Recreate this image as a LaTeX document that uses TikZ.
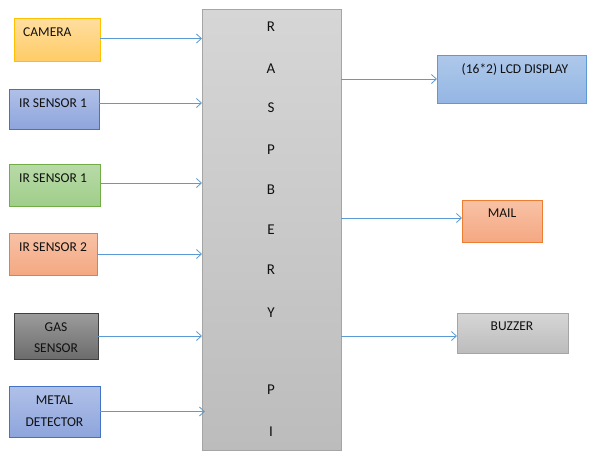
\documentclass[tikz,border=0pt]{standalone}
\usepackage{fontspec}
\setmainfont{Carlito}
\usetikzlibrary{arrows.meta}
\definecolor{arrc}{HTML}{5B9BD5}
\definecolor{txt}{HTML}{111111}
\tikzset{
  box/.style={draw, line width=0.8pt, inner sep=0pt, outer sep=0pt},
  yellowbox/.style={box, draw={rgb,255:red,255;green,192;blue,0}, top color={rgb,255:red,255;green,222;blue,160}, bottom color={rgb,255:red,255;green,204;blue,102}},
  bluebox/.style={box, draw={rgb,255:red,68;green,114;blue,196}, top color={rgb,255:red,176;green,192;blue,232}, bottom color={rgb,255:red,142;green,165;blue,220}},
  greenbox/.style={box, draw={rgb,255:red,112;green,173;blue,71}, top color={rgb,255:red,184;green,218;blue,168}, bottom color={rgb,255:red,160;green,206;blue,138}},
  orangebox/.style={box, draw={rgb,255:red,237;green,125;blue,49}, top color={rgb,255:red,248;green,194;blue,166}, bottom color={rgb,255:red,244;green,168;blue,130}},
  darkbox/.style={box, draw={rgb,255:red,64;green,64;blue,64}, top color={rgb,255:red,156;green,156;blue,156}, bottom color={rgb,255:red,108;green,108;blue,108}},
  greybox/.style={box, draw={rgb,255:red,165;green,165;blue,165}, top color={rgb,255:red,214;green,214;blue,214}, bottom color={rgb,255:red,188;green,188;blue,188}},
  lcdbox/.style={box, draw={rgb,255:red,91;green,155;blue,213}, top color={rgb,255:red,174;green,200;blue,234}, bottom color={rgb,255:red,148;green,182;blue,228}},
  lbl/.style={text=txt, font=\fontsize{13.5pt}{15pt}\selectfont, inner sep=0pt},
  letter/.style={text=txt, font=\fontsize{15pt}{17pt}\selectfont, inner sep=0pt},
  arr/.style={draw=arrc, line width=0.8pt, -{Straight Barb[length=5pt,width=9pt]}},
}
\begin{document}
\begin{tikzpicture}[x=1pt,y=-1pt]
\useasboundingbox (0,0) rectangle (590,451);
\fill[white] (0,0) rectangle (590,451);
% main block
\node[greybox, minimum width=139pt, minimum height=441pt] (rpi) at (271.5,229.5) {};
\foreach \ch/\yy/\nm in {R/27/l1,A/69/l2,S/108/l3,P/150/l4,B/190/l5,E/230/l6,R/270/l7,Y/313/l8,P/390/l9,I/432/l10}
  \node[letter] (\nm) at (271,\yy) {\ch};
% input blocks
\node[yellowbox, minimum width=86pt, minimum height=43pt] (cam) at (57,39.5) {};
\node[lbl, anchor=west] (camT) at (23,32) {CAMERA};
\node[bluebox, minimum width=90pt, minimum height=40pt] (ira) at (54,109) {};
\node[lbl, anchor=west] (iraT) at (19,103) {IR SENSOR 1};
\node[greenbox, minimum width=91pt, minimum height=42pt] (irb) at (54.5,185) {};
\node[lbl, anchor=west] (irbT) at (19,178) {IR SENSOR 1};
\node[orangebox, minimum width=88pt, minimum height=42pt] (irc) at (53,254) {};
\node[lbl, anchor=west] (ircT) at (19,247) {IR SENSOR 2};
\node[darkbox, minimum width=84pt, minimum height=46pt] (gas) at (56,336) {};
\node[lbl] (gasT1) at (56,327) {GAS};
\node[lbl] (gasT2) at (56,348) {SENSOR};
\node[bluebox, minimum width=91pt, minimum height=51pt] (met) at (54.5,411.5) {};
\node[lbl] (metT1) at (54.5,400) {METAL};
\node[lbl] (metT2) at (54.5,422) {DETECTOR};
% output blocks
\node[lcdbox, minimum width=149pt, minimum height=48pt] (lcd) at (511.5,79) {};
\node[lbl] (lcdT) at (515,69) {(16*2) LCD DISPLAY};
\node[orangebox, minimum width=80pt, minimum height=42pt] (mail) at (502,221) {};
\node[lbl] (mailT) at (502,213) {MAIL};
\node[greybox, minimum width=111pt, minimum height=40pt] (buz) at (512.5,333) {};
\node[lbl] (buzT) at (512,326) {BUZZER};
% connectors
\draw[arr] ([yshift=1pt]cam.east) coordinate (s1) -- (s1 -| rpi.west);
\draw[arr] ([yshift=6pt]ira.east) coordinate (s2) -- (s2 -| rpi.west);
\draw[arr] ([yshift=2pt]irb.east) coordinate (s3) -- (s3 -| rpi.west);
\draw[arr] (irc.east) -- (irc.east -| rpi.west);
\draw[arr] (gas.east) -- (gas.east -| rpi.west);
\draw[arr] (met.east) -- ([xshift=3pt]met.east -| rpi.west);
\draw[arr] (lcd.west -| rpi.east) -- (lcd.west);
\path ([yshift=3pt]mail.west) coordinate (t2);
\draw[arr] (t2 -| rpi.east) -- (t2);
\path ([yshift=-3pt]buz.west) coordinate (t3);
\draw[arr] (t3 -| rpi.east) -- (t3);
\end{tikzpicture}
\end{document}
